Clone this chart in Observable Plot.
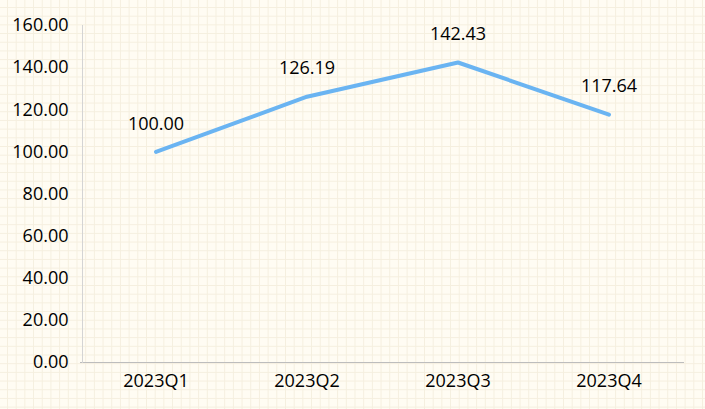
<!DOCTYPE html>
<html>
<head>
<meta charset="utf-8">
<script src="https://cdn.jsdelivr.net/npm/d3@7"></script>
<script src="https://cdn.jsdelivr.net/npm/@observablehq/plot@0.6"></script>
<style>
  html, body { margin: 0; padding: 0; }
  body {
    width: 705px; height: 409px; overflow: hidden;
    background-color: #fffcf3;
    background-image:
      linear-gradient(to right, #f5efdf 1px, transparent 1px),
      linear-gradient(to bottom, #f5efdf 1px, transparent 1px);
    background-size: 8.7px 8.7px;
    background-position: 7px 7px;
  }
  svg { background: transparent !important; display: block; }
</style>
</head>
<body>
<div id="chart"></div>
<script>
const quarters = ["2023Q1", "2023Q2", "2023Q3", "2023Q4"];
const values = [100.00, 126.19, 142.43, 117.64];
const yTicks = [0, 20, 40, 60, 80, 100, 120, 140, 160];

const data = quarters.map((q, i) => ({ q, v: values[i] }));
const font = "'Open Sans', 'Noto Sans', sans-serif";

const chart = Plot.plot({
  width: 705,
  height: 409,
  marginLeft: 80,
  marginRight: 21,
  marginTop: 25,
  marginBottom: 47,
  style: { background: "transparent", fontFamily: font, fontSize: "18px", color: "#000" },
  x: { type: "band", domain: quarters, padding: 0, label: null },
  y: { domain: [0, 160], ticks: yTicks, label: null },
  marks: [
    Plot.axisX({ tickSize: 0, tickPadding: 12, fontSize: 18, fill: "#000" }),
    Plot.axisY({ ticks: yTicks, tickSize: 0, tickPadding: 12, fontSize: 18, fill: "#000", tickFormat: d => d.toFixed(2) }),
    Plot.ruleY([0], { stroke: "#bdbdbd", strokeWidth: 1 }),
    Plot.frame({ anchor: "left", stroke: "#d4d4d4", strokeWidth: 1, dx: 2 }),
    Plot.line(data, { x: "q", y: "v", stroke: "#6ab4f2", strokeWidth: 4, strokeLinejoin: "miter" }),
    Plot.text(data, { x: "q", y: "v", text: d => d.v.toFixed(2), dy: -28, fontSize: 18, fill: "#000" })
  ]
});
document.getElementById("chart").appendChild(chart);
</script>
</body>
</html>
